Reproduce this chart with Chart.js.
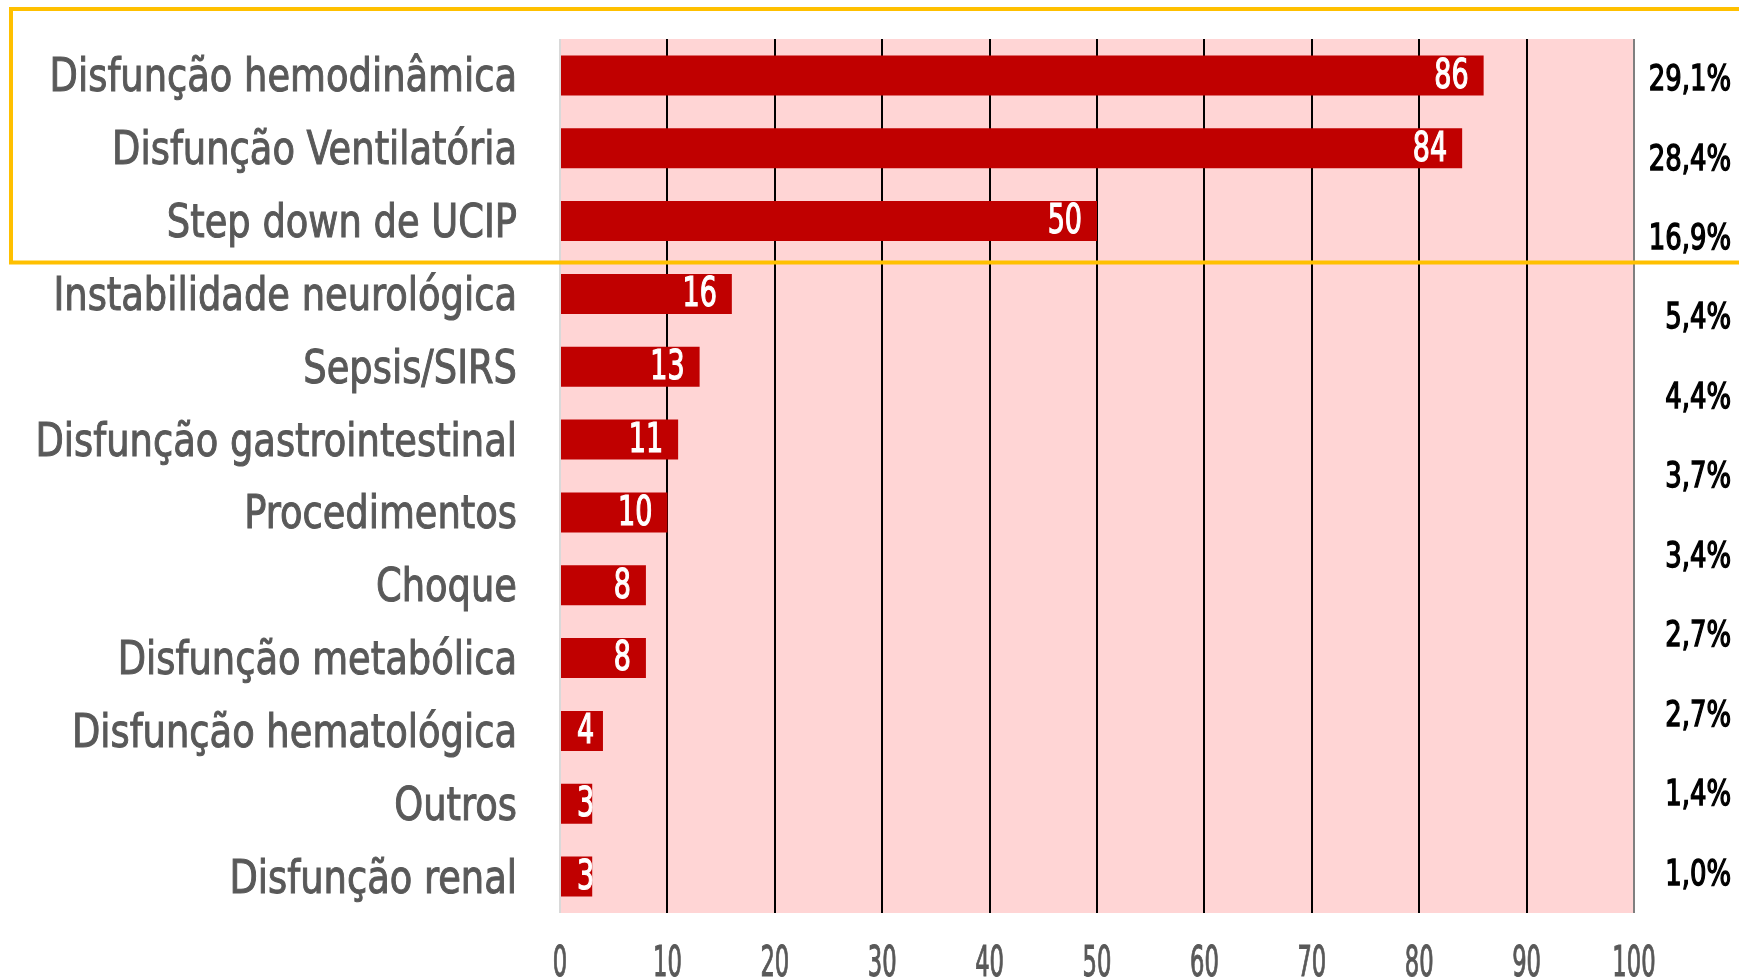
<!DOCTYPE html>
<html>
<head>
<meta charset="utf-8">
<script src="https://cdn.jsdelivr.net/npm/chart.js@4"></script>
<style>
  html, body { margin: 0; padding: 0; background: #fff; }
  #wrap { width: 1739px; height: 979px; }
</style>
</head>
<body>
<div id="wrap"><canvas id="chart"></canvas></div>
<script>
// ==================== DATA ====================
const categories = [
  'Disfunção hemodinâmica', 'Disfunção Ventilatória', 'Step down de UCIP',
  'Instabilidade neurológica', 'Sepsis/SIRS', 'Disfunção gastrointestinal',
  'Procedimentos', 'Choque', 'Disfunção metabólica', 'Disfunção hematológica',
  'Outros', 'Disfunção renal'
];
const counts = [86, 84, 50, 16, 13, 11, 10, 8, 8, 4, 3, 3];
const percentLabels = ['29,1%', '28,4%', '16,9%', '5,4%', '4,4%', '3,7%', '3,4%', '2,7%', '2,7%', '1,4%', '1,0%'];
const highlightCount = 3;

const FONT = '"DejaVu Sans Condensed", "DejaVu Sans", sans-serif';

// draw text squeezed horizontally (the original uses a condensed face),
// with an optional thin outline to fake a medium weight
function squeeze(ctx, text, x, y, sx, stroke) {
  ctx.save();
  ctx.translate(x, y);
  ctx.scale(sx, 1);
  ctx.fillText(text, 0, 0);
  if (stroke) {
    ctx.lineWidth = stroke;
    ctx.strokeStyle = ctx.fillStyle;
    ctx.strokeText(text, 0, 0);
  }
  ctx.restore();
}

// ==================== PLUGINS ====================
const plotBg = {
  id: 'plotBg',
  beforeDraw(chart) {
    const { ctx, chartArea: a } = chart;
    ctx.save();
    ctx.fillStyle = '#FFD5D5';
    ctx.fillRect(a.left, a.top, a.right - a.left, a.bottom - a.top);
    ctx.restore();
  }
};

const axisText = {
  id: 'axisText',
  afterDraw(chart) {
    const { ctx, chartArea: a, scales } = chart;
    ctx.save();
    ctx.fillStyle = '#595959';
    ctx.textBaseline = 'middle';
    // category labels
    ctx.font = '46px ' + FONT;
    ctx.textAlign = 'right';
    categories.forEach((c, i) => {
      squeeze(ctx, c, a.left - 43, scales.y.getPixelForTick(i) + 4, 0.89, 1);
    });
    // value ticks
    ctx.font = '42px ' + FONT;
    ctx.textAlign = 'center';
    scales.x.ticks.forEach((t, i) => {
      squeeze(ctx, String(t.value), scales.x.getPixelForTick(i), a.bottom + 52, 0.6, 1);
    });
    ctx.restore();
  }
};

const barLabels = {
  id: 'barLabels',
  afterDatasetsDraw(chart) {
    const { ctx } = chart;
    const meta = chart.getDatasetMeta(0);
    const sx = 0.75;
    ctx.save();
    ctx.fillStyle = '#fff';
    ctx.font = '40px ' + FONT;
    ctx.textAlign = 'right';
    ctx.textBaseline = 'middle';
    meta.data.forEach((bar, i) => {
      const t = String(counts[i]);
      const w = ctx.measureText(t).width * sx;
      const right = Math.max(bar.x - 15, bar.base + 16 + w);
      squeeze(ctx, t, right, bar.y + 2, sx, 1.2);
    });
    ctx.restore();
  }
};

const sideNotes = {
  id: 'sideNotes',
  afterDraw(chart) {
    const { ctx, chartArea: a, scales } = chart;
    // percentages on the right
    ctx.save();
    ctx.fillStyle = '#000';
    ctx.font = '36px ' + FONT;
    ctx.textAlign = 'right';
    ctx.textBaseline = 'middle';
    const step = (a.bottom - a.top) / percentLabels.length;
    percentLabels.forEach((t, i) => {
      squeeze(ctx, t, 1731, a.top + step * (i + 0.5) + 2, 0.8, 1.4);
    });
    // highlight box around the top categories
    const y = scales.y;
    const half = (y.getPixelForValue(1) - y.getPixelForValue(0)) / 2;
    const boxBottom = y.getPixelForValue(highlightCount - 1) + half + 5;
    ctx.strokeStyle = '#FFC000';
    ctx.lineWidth = 4;
    ctx.strokeRect(11, 9, 1760, boxBottom - 9);
    ctx.restore();
  }
};

// ==================== CHART ====================
new Chart(document.getElementById('chart'), {
  type: 'bar',
  data: {
    labels: categories,
    datasets: [{
      data: counts,
      backgroundColor: '#C00000',
      barPercentage: 0.55,
      categoryPercentage: 1
    }]
  },
  options: {
    indexAxis: 'y',
    responsive: true,
    maintainAspectRatio: false,
    animation: false,
    layout: { padding: { top: 39, right: 105, left: 0, bottom: 0 } },
    plugins: { legend: { display: false }, tooltip: { enabled: false } },
    scales: {
      x: {
        min: 0,
        max: 100,
        afterFit: s => { s.height = 66; },
        border: { display: false },
        grid: {
          drawTicks: false,
          lineWidth: 2,
          color: ctx => ctx.tick.value === 0 ? '#D9D9D9' : (ctx.tick.value === 100 ? '#7F7F7F' : '#000')
        },
        ticks: { stepSize: 10, display: false }
      },
      y: {
        afterFit: s => { s.width = 560; },
        border: { display: false },
        grid: { display: false },
        ticks: { display: false }
      }
    }
  },
  plugins: [plotBg, axisText, barLabels, sideNotes]
});
</script>
</body>
</html>
